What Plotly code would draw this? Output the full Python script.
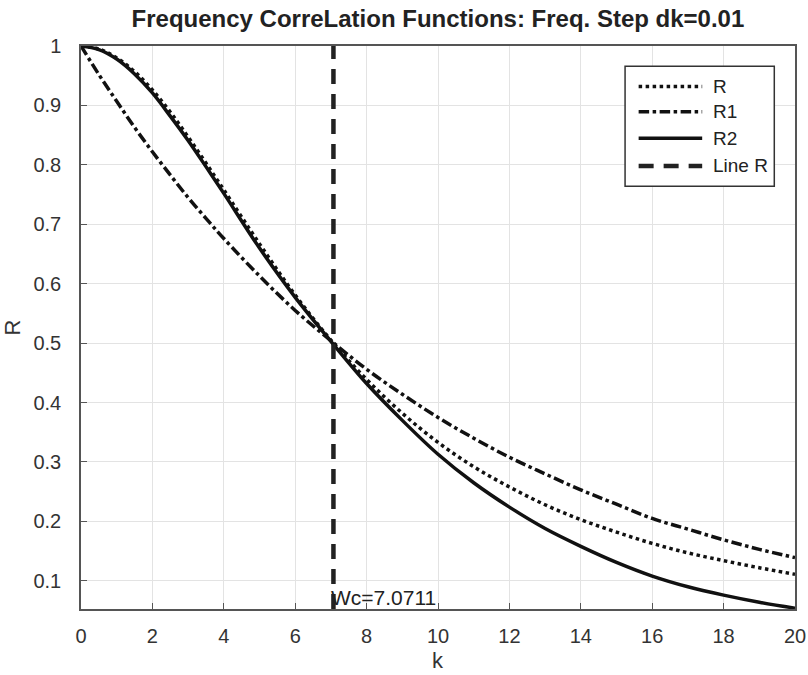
import plotly.graph_objects as go

k = [0, 0.5, 1, 1.5, 2, 2.5, 3, 3.5, 4, 5, 6, 7, 8, 9, 10,
     11, 12, 13, 14, 15, 16, 17, 18, 19, 20]
R = [1.0, 0.995, 0.980, 0.957, 0.926, 0.889, 0.847, 0.803, 0.758, 0.667, 0.581,
     0.505, 0.439, 0.382, 0.333, 0.292, 0.258, 0.228, 0.203, 0.182, 0.163,
     0.147, 0.134, 0.122, 0.111]
R1 = [1.0, 0.952, 0.907, 0.863, 0.822, 0.783, 0.745, 0.710, 0.676, 0.613, 0.555,
      0.504, 0.456, 0.414, 0.375, 0.340, 0.308, 0.280, 0.253, 0.229, 0.205,
      0.187, 0.169, 0.153, 0.139]
R2 = [1.0, 0.994, 0.978, 0.953, 0.921, 0.882, 0.841, 0.797, 0.752, 0.660, 0.577,
      0.503, 0.432, 0.370, 0.313, 0.265, 0.224, 0.188, 0.158, 0.131, 0.108,
      0.090, 0.076, 0.064, 0.054]
Wc = 7.0711
line_y = [0.0526, 1.0]
y_ticks = [0.1, 0.2, 0.3, 0.4, 0.5, 0.6, 0.7, 0.8, 0.9, 1.0]
y_tick_text = ["0.1", "0.2", "0.3", "0.4", "0.5", "0.6", "0.7", "0.8", "0.9", "1"]
x_ticks = list(range(0, 21, 2))
legend_names = ["R", "R1", "R2", "Line R"]

FONT = "Liberation Sans, Arial, sans-serif"
INK = "#111111"
styles = [dict(color=INK, width=3.5, dash="dot"),
          dict(color=INK, width=3.5, dash="dashdot"),
          dict(color=INK, width=3.5),
          dict(color="#222222", width=4.5, dash="15px,10px")]

fig = go.Figure()
for name, yv, st in zip(legend_names[:3], [R, R1, R2], styles[:3]):
    fig.add_trace(go.Scatter(x=k, y=yv, name=name, mode="lines", line_shape="spline",
                             line=st, showlegend=False))
fig.add_trace(go.Scatter(x=[Wc, Wc], y=line_y, name="Line R", mode="lines",
                         line=styles[3], showlegend=False))
fig.add_annotation(x=Wc, y=0.0526, xref="x", yref="y", text="Wc=7.0711",
                   showarrow=False, xanchor="left", yanchor="bottom",
                   xshift=-4, yshift=-2,
                   font=dict(family=FONT, size=21, color="#222222"))

# legend box (drawn in plot-area paper coordinates)
fig.add_shape(type="rect", xref="paper", yref="paper", x0=0.762, x1=0.971,
              y0=0.751, y1=0.964, line=dict(color="#333333", width=1.5),
              fillcolor="white", layer="above")
rows = [0.928, 0.883, 0.836, 0.787]
for name, ry, st in zip(legend_names, rows, styles):
    fig.add_shape(type="line", xref="paper", yref="paper", x0=0.781, x1=0.870,
                  y0=ry, y1=ry, line=st, layer="above")
    fig.add_annotation(x=0.882, y=ry, xref="paper", yref="paper", text=name,
                       showarrow=False, xanchor="left", yanchor="middle",
                       font=dict(family=FONT, size=19, color="#222222"))

# x-axis label
fig.add_annotation(x=0.5, y=-0.0906, xref="paper", yref="paper", text="k",
                   showarrow=False, xanchor="center", yanchor="middle",
                   font=dict(family=FONT, size=22, color="#333333"))

fig.update_layout(
    width=808, height=675,
    margin=dict(l=81, r=13, t=46, b=66, autoexpand=False),
    paper_bgcolor="white", plot_bgcolor="white",
    font=dict(family=FONT, size=20, color="#333333"),
    title=dict(text="<b>Frequency CorreLation Functions: Freq. Step dk=0.01</b>",
               x=0.542, xanchor="center", y=0.973, yanchor="middle",
               font=dict(family=FONT, size=24, color="#222222")),
    showlegend=False,
)
fig.update_xaxes(range=[0, 20], tickvals=x_ticks, showgrid=True, gridcolor="#e3e3e3",
                 gridwidth=1, showline=True, linecolor="#555555", linewidth=1.5,
                 mirror=True, ticks="inside", ticklen=6, tickcolor="#555555",
                 zeroline=False, ticklabelstandoff=8, automargin=False,
                 tickfont=dict(family=FONT, size=20, color="#333333"))
fig.update_yaxes(range=[0.0526, 1.0], tickvals=y_ticks, ticktext=y_tick_text,
                 showgrid=True, gridcolor="#e3e3e3", gridwidth=1, showline=True,
                 linecolor="#555555", linewidth=1.5, mirror=True, ticks="inside",
                 ticklen=6, tickcolor="#555555", zeroline=False,
                 ticklabelstandoff=14, automargin=False,
                 tickfont=dict(family=FONT, size=20, color="#333333"),
                 title=dict(text="R", standoff=10,
                            font=dict(family=FONT, size=22, color="#333333")))

fig.write_html("out.html", config={"displayModeBar": False},
               post_script="document.body.style.margin='0';")
